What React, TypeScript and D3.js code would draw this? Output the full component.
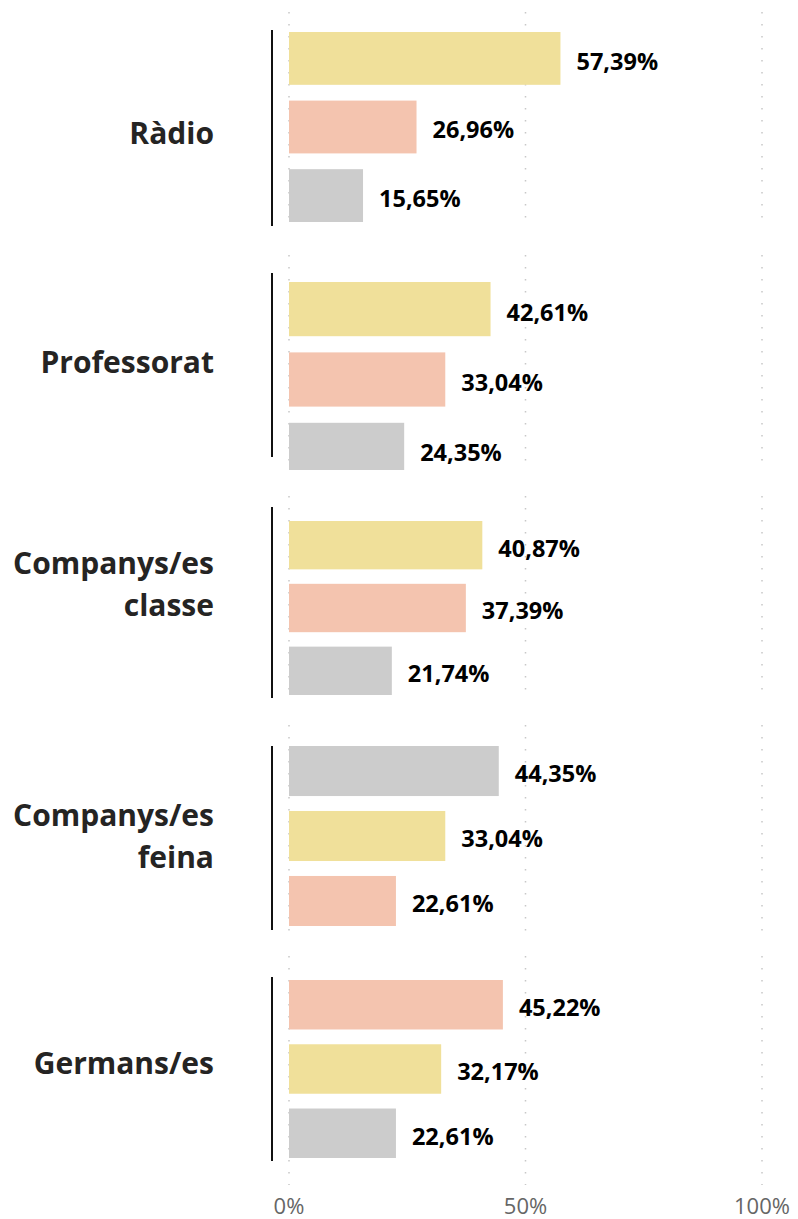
import React, { useLayoutEffect } from "react";
import * as d3 from "d3";

// ---- data ----
const categories = ["Ràdio", "Professorat", "Companys/es classe", "Companys/es feina", "Germans/es"];
const categoryLines = [["Ràdio"], ["Professorat"], ["Companys/es", "classe"], ["Companys/es", "feina"], ["Germans/es"]];
const seriesNames = ["Sèrie A", "Sèrie B", "Sèrie C"];
const seriesA = [57.39, 42.61, 40.87, 33.04, 32.17]; // yellow
const seriesB = [26.96, 33.04, 37.39, 22.61, 45.22]; // salmon
const seriesC = [15.65, 24.35, 21.74, 44.35, 22.61]; // gray
const xTicks = [0, 50, 100];
const xTickLabels = ["0%", "50%", "100%"];

const seriesColors = ["#F0E09A", "#F4C4AF", "#CCCCCC"];

// ---- layout (per panel) ----
const panels = [
  { gridTop: 12, gridBottom: 226, barTop: 32, barBottom: 222, lineTop: 30, lineBottom: 226, clipBottom: 1219, labelY: 133 },
  { gridTop: 255, gridBottom: 470, barTop: 282, barBottom: 477, lineTop: 273, lineBottom: 457, clipBottom: 470, labelY: 362 },
  { gridTop: 496, gridBottom: 700, barTop: 521, barBottom: 695, lineTop: 507, lineBottom: 698, clipBottom: 1219, labelY: 584 },
  { gridTop: 725, gridBottom: 935, barTop: 746, barBottom: 926, lineTop: 746, lineBottom: 930, clipBottom: 1219, labelY: 836 },
  { gridTop: 956, gridBottom: 1185, barTop: 980, barBottom: 1158, lineTop: 977, lineBottom: 1161, clipBottom: 1219, labelY: 1063 },
];

const W = 798;
const H = 1219;
const x = d3.scaleLinear().domain([0, 100]).range([289, 762]);
const fmt = (v: number) => v.toFixed(2).replace(".", ",") + "%";
const FONT = "'Open Sans', 'Noto Sans', sans-serif";

export default function App() {
  useLayoutEffect(() => {
    document.body.style.margin = "0";
  }, []);

  const allSeries = [seriesA, seriesB, seriesC];

  return (
    <svg width={W} height={H} style={{ display: "block", background: "#fff" }} fontFamily={FONT}>
      <defs>
        {panels.map((p, i) => (
          <clipPath id={`clip${i}`} key={i}>
            <rect x={0} y={0} width={W} height={p.clipBottom} />
          </clipPath>
        ))}
      </defs>
      {categories.map((cat, ci) => {
        const p = panels[ci];
        const items = allSeries
          .map((s, si) => ({ si, name: seriesNames[si], v: s[ci] }))
          .sort((a, b) => b.v - a.v);
        const y = d3
          .scaleBand<number>()
          .domain(items.map((_, k) => k))
          .range([p.barTop, p.barBottom])
          .paddingInner(0.23)
          .paddingOuter(0);
        const lines = categoryLines[ci];
        const lh = 42;
        return (
          <g key={cat}>
            {xTicks.map((t) => (
              <line
                key={t}
                x1={x(t)}
                x2={x(t)}
                y1={p.gridTop}
                y2={p.gridBottom}
                stroke="#C8C8C8"
                strokeWidth={1.5}
                strokeDasharray="1.5 10.5"
              />
            ))}
            <g clipPath={`url(#clip${ci})`}>
              {items.map((it, k) => (
                <rect
                  key={it.si}
                  x={x(0)}
                  y={y(k)}
                  width={x(it.v) - x(0)}
                  height={y.bandwidth()}
                  fill={seriesColors[it.si]}
                />
              ))}
            </g>
            {items.map((it, k) => (
              <text
                key={"t" + it.si}
                x={x(it.v) + 16}
                y={(y(k) as number) + y.bandwidth() / 2 + 3}
                dy="0.36em"
                fontSize={23.5}
                fontWeight={700}
                fill="#000"
              >
                {fmt(it.v)}
              </text>
            ))}
            <line x1={272} x2={272} y1={p.lineTop} y2={p.lineBottom} stroke="#111" strokeWidth={2} />
            {lines.map((ln, li) => (
              <text
                key={ln}
                x={214}
                y={p.labelY + (li - (lines.length - 1) / 2) * lh}
                dy="0.36em"
                textAnchor="end"
                fontSize={30}
                fontWeight={700}
                fill="#252423"
              >
                {ln}
              </text>
            ))}
          </g>
        );
      })}
      {xTicks.map((t, i) => (
        <text key={t} x={x(t)} y={1214} textAnchor="middle" fontSize={22} fill="#666">
          {xTickLabels[i]}
        </text>
      ))}
    </svg>
  );
}
